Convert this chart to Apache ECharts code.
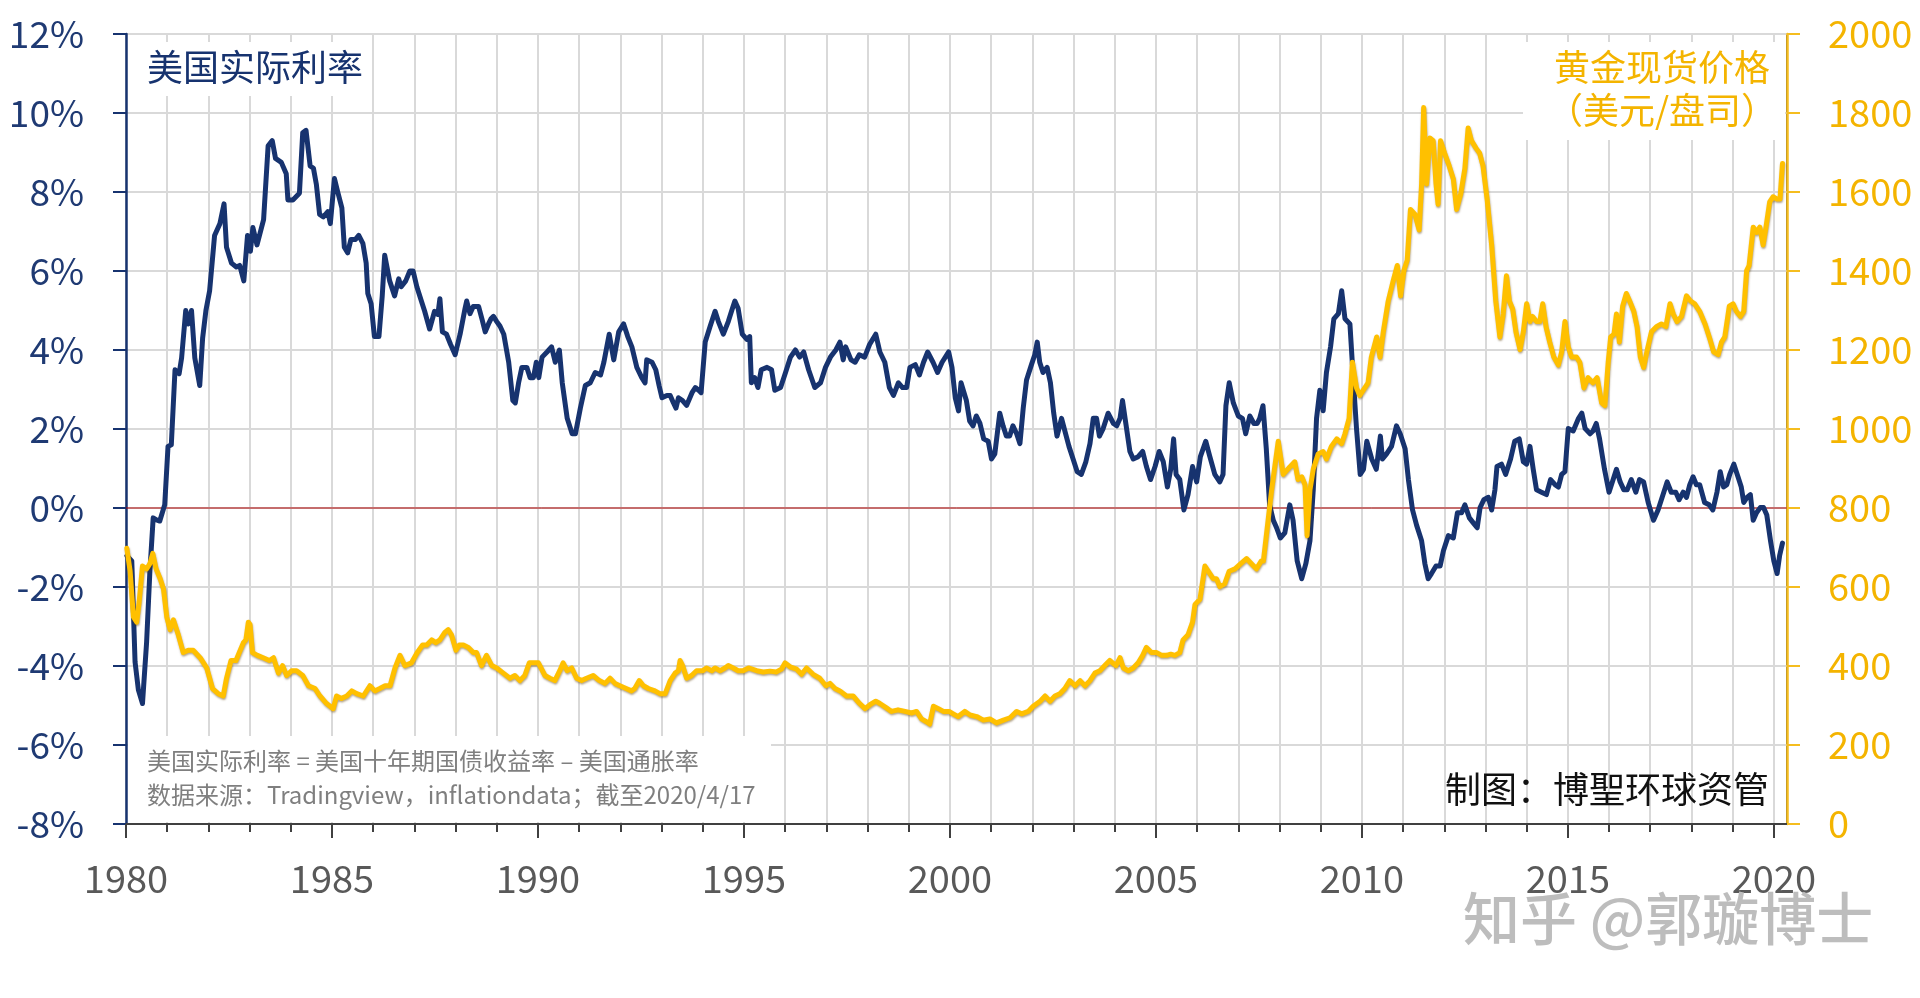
<!DOCTYPE html>
<html><head><meta charset="utf-8">
<script src="https://cdn.jsdelivr.net/npm/echarts@6/dist/echarts.min.js"></script>
<style>html,body{margin:0;padding:0;background:#fff}#c{width:1920px;height:998px}</style>
</head><body><div id="c"></div>
<script>
const FONT = '"Noto Sans CJK SC","Noto Sans",sans-serif';

// 美国实际利率 (%)
const rateYears = [
1980.02,1980.14,1980.22,1980.30,1980.40,1980.50,1980.58,1980.66,1980.74,1980.82,1980.94,
1981.02,1981.10,1981.19,1981.29,1981.35,1981.45,1981.51,1981.59,1981.67,1981.79,1981.86,1981.94,
1982.03,1982.15,1982.28,1982.38,1982.44,1982.56,1982.68,1982.76,1982.86,1982.95,
1983.02,1983.08,1983.18,1983.34,1983.45,1983.55,1983.63,1983.77,1983.89,1983.93,
1984.05,1984.21,1984.29,1984.37,1984.47,1984.55,1984.62,1984.70,1984.79,1984.90,1984.96,
1985.06,1985.14,1985.24,1985.30,1985.38,1985.46,1985.57,1985.65,1985.75,1985.83,1985.87,1985.95,
1986.03,1986.14,1986.22,1986.28,1986.40,1986.52,1986.62,1986.68,1986.79,1986.89,1986.97,
1987.06,1987.17,1987.25,1987.37,1987.49,1987.57,1987.62,1987.68,1987.78,1987.88,1987.99,
1988.11,1988.23,1988.27,1988.35,1988.43,1988.56,1988.64,1988.72,1988.80,1988.86,1988.92,
1989.00,1989.08,1989.17,1989.29,1989.39,1989.45,1989.53,1989.61,1989.73,1989.81,1989.89,1989.96,
1990.02,1990.10,1990.22,1990.33,1990.42,1990.52,1990.59,1990.71,1990.83,1990.91,
1991.03,1991.15,1991.27,1991.39,1991.52,1991.60,1991.73,1991.84,1991.96,
1992.08,1992.18,1992.28,1992.40,1992.52,1992.60,1992.64,1992.77,1992.86,1992.94,
1993.01,1993.13,1993.21,1993.29,1993.35,1993.41,1993.51,1993.61,1993.74,1993.82,1993.90,1993.96,
1994.06,1994.18,1994.30,1994.38,1994.50,1994.62,1994.72,1994.78,1994.86,1994.96,
1995.07,1995.14,1995.18,1995.26,1995.34,1995.42,1995.56,1995.67,1995.75,1995.89,
1996.01,1996.13,1996.25,1996.35,1996.45,1996.57,1996.72,1996.86,1996.98,
1997.10,1997.23,1997.33,1997.41,1997.47,1997.60,1997.70,1997.80,1997.93,
1998.05,1998.20,1998.30,1998.42,1998.53,1998.63,1998.75,1998.85,1998.95,
1999.03,1999.16,1999.26,1999.36,1999.46,1999.59,1999.70,1999.81,1999.97,
2000.05,2000.13,2000.21,2000.27,2000.40,2000.48,2000.56,2000.64,2000.73,2000.82,2000.93,
2001.01,2001.09,2001.21,2001.29,2001.37,2001.45,2001.53,2001.62,2001.70,2001.78,2001.86,2001.98,
2002.06,2002.12,2002.18,2002.26,2002.36,2002.44,2002.52,2002.60,2002.71,2002.79,2002.89,2002.99,
2003.09,2003.19,2003.30,2003.40,2003.48,2003.56,2003.63,2003.72,2003.84,2003.97,
2004.05,2004.13,2004.19,2004.27,2004.37,2004.45,2004.57,2004.68,2004.77,2004.87,2004.98,
2005.08,2005.18,2005.28,2005.36,2005.43,2005.49,2005.58,2005.68,2005.78,2005.89,2005.99,
2006.08,2006.21,2006.31,2006.43,2006.55,2006.63,2006.70,2006.78,2006.88,
2007.00,2007.10,2007.18,2007.28,2007.38,2007.46,2007.52,2007.60,2007.68,2007.76,2007.85,2007.93,
2008.02,2008.13,2008.25,2008.33,2008.43,2008.54,2008.64,2008.74,2008.82,2008.90,2008.98,
2009.06,2009.14,2009.24,2009.32,2009.43,2009.51,2009.59,2009.71,2009.79,2009.87,2009.96,
2010.04,2010.12,2010.24,2010.35,2010.45,2010.50,2010.60,2010.72,2010.84,2010.93,
2011.05,2011.13,2011.23,2011.33,2011.45,2011.53,2011.61,2011.69,2011.80,2011.90,2011.98,
2012.10,2012.22,2012.32,2012.42,2012.50,2012.61,2012.70,2012.80,2012.87,2012.96,
2013.07,2013.15,2013.23,2013.28,2013.39,2013.49,2013.61,2013.71,2013.82,2013.92,
2014.00,2014.08,2014.16,2014.24,2014.36,2014.48,2014.58,2014.69,2014.77,2014.85,2014.93,
2015.01,2015.13,2015.26,2015.34,2015.42,2015.54,2015.61,2015.69,2015.77,2015.89,
2016.00,2016.10,2016.18,2016.27,2016.36,2016.44,2016.54,2016.65,2016.74,2016.84,2016.95,
2017.08,2017.19,2017.29,2017.41,2017.51,2017.62,2017.70,2017.80,2017.88,2017.96,
2018.04,2018.12,2018.20,2018.32,2018.43,2018.52,2018.62,2018.70,2018.78,2018.86,2018.93,
2019.03,2019.13,2019.21,2019.27,2019.35,2019.43,2019.50,2019.58,2019.67,2019.75,2019.83,2019.92,
2020.00,2020.08,2020.14,2020.21
];
const rateValues = [
-1.21,-1.34,-3.9,-4.6,-4.95,-3.4,-1.6,-0.25,-0.3,-0.33,0.08,
1.56,1.6,3.5,3.4,3.8,5.0,4.66,5.0,3.8,3.1,4.3,5.0,
5.5,6.9,7.2,7.7,6.6,6.2,6.1,6.14,5.75,6.9,
6.5,7.1,6.66,7.3,9.17,9.3,8.85,8.75,8.46,7.8,
7.8,7.97,9.5,9.56,8.66,8.6,8.2,7.43,7.37,7.5,7.2,
8.34,8.0,7.6,6.6,6.46,6.8,6.8,6.9,6.7,6.2,5.43,5.17,
4.34,4.34,5.37,6.4,5.75,5.37,5.8,5.6,5.75,6.0,6.0,
5.6,5.24,4.98,4.53,4.98,4.9,5.3,4.46,4.4,4.14,3.88,
4.4,5.05,5.24,4.92,5.1,5.1,4.79,4.46,4.66,4.79,4.85,
4.72,4.6,4.4,3.69,2.72,2.66,3.17,3.56,3.56,3.3,3.3,3.69,
3.3,3.82,3.95,4.08,3.69,4.0,3.17,2.27,1.88,1.88,
2.53,3.1,3.17,3.43,3.37,3.69,4.4,3.75,4.46,
4.66,4.34,4.08,3.56,3.3,3.17,3.75,3.69,3.5,3.1,
2.79,2.85,2.85,2.66,2.53,2.79,2.72,2.6,2.92,3.05,2.98,2.92,
4.2,4.6,4.98,4.72,4.4,4.72,5.05,5.24,5.05,4.4,
4.27,4.34,3.17,3.3,3.05,3.5,3.56,3.5,2.98,3.05,
3.43,3.82,4.0,3.82,3.95,3.5,3.05,3.17,3.56,
3.82,4.0,4.2,3.75,4.08,3.75,3.69,3.88,3.82,
4.14,4.4,3.95,3.69,3.05,2.85,3.17,3.05,3.05,
3.56,3.63,3.37,3.69,3.95,3.69,3.43,3.69,3.95,
3.56,2.79,2.46,3.17,2.72,2.2,2.08,2.33,2.14,1.75,1.69,
1.24,1.37,2.4,2.08,1.82,1.82,2.08,1.88,1.63,2.53,3.24,3.63,
3.88,4.2,3.69,3.43,3.56,3.17,2.4,1.82,2.27,1.95,1.56,1.24,
0.92,0.85,1.17,1.63,2.27,2.27,1.82,2.01,2.4,2.14,
2.08,2.27,2.72,2.14,1.43,1.24,1.3,1.43,1.05,0.72,1.05,
1.43,1.17,0.53,0.98,1.75,0.85,0.72,-0.05,0.34,1.05,0.66,
1.3,1.69,1.3,0.85,0.66,0.85,2.59,3.17,2.66,
2.33,2.27,1.88,2.33,2.14,2.14,2.27,2.59,1.5,0.08,-0.31,-0.5,
-0.76,-0.63,0.08,-0.31,-1.34,-1.79,-1.41,-0.83,0.46,2.27,2.98,
2.46,3.43,4.08,4.79,4.92,5.5,4.79,4.66,3.3,2.01,0.85,
0.98,1.69,1.24,0.98,1.82,1.24,1.37,1.56,2.08,1.88,
1.5,0.72,-0.05,-0.44,-0.83,-1.41,-1.79,-1.66,-1.47,-1.47,-1.08,
-0.7,-0.76,-0.12,-0.12,0.08,-0.25,-0.37,-0.5,0.01,0.21,
0.27,-0.05,0.46,1.05,1.11,0.85,1.24,1.69,1.75,1.17,
1.11,1.56,0.98,0.46,0.4,0.34,0.72,0.59,0.53,0.85,0.92,
2.01,1.95,2.27,2.4,2.01,1.88,1.95,2.14,1.75,0.98,
0.4,0.72,0.98,0.66,0.46,0.46,0.72,0.4,0.72,0.66,0.14,
-0.31,-0.05,0.27,0.66,0.4,0.4,0.21,0.4,0.27,0.59,
0.79,0.59,0.59,0.14,0.08,-0.05,0.4,0.92,0.53,0.59,0.85,
1.11,0.79,0.53,0.14,0.27,0.34,-0.31,-0.12,0.01,0.01,-0.18,-0.83,
-1.34,-1.66,-1.21,-0.89
];

// 黄金现货价格 (美元/盘司)
const goldYears = [
1980.02,1980.10,1980.18,1980.26,1980.32,1980.40,1980.50,1980.58,1980.65,1980.73,1980.83,1980.91,1980.99,
1981.07,1981.15,1981.27,1981.39,1981.51,1981.63,1981.80,1981.96,
1982.10,1982.24,1982.36,1982.44,1982.55,1982.67,1982.75,1982.85,1982.91,1982.97,
1983.01,1983.07,1983.19,1983.33,1983.48,1983.58,1983.70,1983.80,1983.90,
1984.02,1984.14,1984.29,1984.43,1984.59,1984.71,1984.87,1985.03,
1985.11,1985.23,1985.36,1985.48,1985.60,1985.76,1985.92,
1986.04,1986.16,1986.29,1986.41,1986.53,1986.65,1986.77,1986.93,
1987.07,1987.20,1987.30,1987.42,1987.52,1987.62,1987.74,1987.82,1987.90,
1988.01,1988.09,1988.19,1988.31,1988.43,1988.51,1988.63,1988.75,1988.88,
1989.00,1989.16,1989.32,1989.44,1989.56,1989.68,1989.79,1989.90,
1990.01,1990.17,1990.29,1990.41,1990.53,1990.61,1990.71,1990.82,1990.94,
1991.06,1991.18,1991.34,1991.49,1991.63,1991.75,1991.87,1991.99,
1992.14,1992.27,1992.35,1992.46,1992.56,1992.68,1992.84,1992.96,
1993.09,1993.21,1993.33,1993.41,1993.45,1993.51,1993.61,1993.73,1993.85,
1994.00,1994.09,1994.22,1994.30,1994.42,1994.54,1994.62,1994.74,1994.86,1994.98,
1995.11,1995.31,1995.47,1995.63,1995.79,1995.91,
1996.00,1996.12,1996.28,1996.40,1996.52,1996.68,1996.84,1996.99,
1997.09,1997.21,1997.33,1997.49,1997.65,1997.81,1997.94,
1998.06,1998.20,1998.30,1998.46,1998.58,1998.74,1998.91,
1999.07,1999.19,1999.31,1999.43,1999.51,1999.60,1999.72,1999.84,1999.98,
2000.08,2000.20,2000.36,2000.49,2000.65,2000.81,2000.97,
2001.13,2001.30,2001.46,2001.62,2001.74,2001.90,
2002.02,2002.19,2002.31,2002.43,2002.55,2002.67,2002.79,2002.91,
2003.04,2003.16,2003.28,2003.40,2003.52,2003.64,2003.76,2003.88,
2004.03,2004.13,2004.21,2004.33,2004.45,2004.57,2004.68,2004.77,2004.89,
2005.02,2005.14,2005.26,2005.36,2005.46,2005.58,2005.66,2005.78,2005.89,2005.95,
2006.07,2006.19,2006.31,2006.39,2006.47,2006.55,2006.67,2006.78,2006.92,
2007.06,2007.20,2007.32,2007.44,2007.56,2007.61,2007.81,2007.97,
2008.09,2008.25,2008.37,2008.45,2008.54,2008.62,2008.67,2008.74,2008.82,2008.94,
2009.06,2009.14,2009.26,2009.39,2009.51,2009.59,2009.69,2009.77,2009.87,2009.95,
2010.07,2010.15,2010.23,2010.36,2010.44,2010.52,2010.64,2010.76,2010.86,2010.94,
2011.02,2011.10,2011.18,2011.29,2011.39,2011.45,2011.50,2011.57,2011.65,2011.73,2011.80,2011.85,2011.91,
2012.01,2012.12,2012.22,2012.30,2012.40,2012.50,2012.58,2012.66,2012.77,2012.86,2012.94,
2013.04,2013.15,2013.25,2013.35,2013.43,2013.51,2013.58,2013.66,2013.74,2013.84,2013.92,
2014.00,2014.08,2014.14,2014.24,2014.32,2014.39,2014.47,2014.56,2014.66,2014.77,2014.85,2014.93,
2015.01,2015.09,2015.21,2015.29,2015.39,2015.49,2015.61,2015.71,2015.82,2015.90,2015.98,
2016.04,2016.12,2016.18,2016.25,2016.33,2016.42,2016.50,2016.60,2016.68,2016.76,2016.84,2016.93,
2017.03,2017.15,2017.27,2017.38,2017.48,2017.56,2017.65,2017.76,2017.88,2017.98,
2018.08,2018.20,2018.33,2018.45,2018.54,2018.65,2018.73,2018.81,2018.92,
2019.01,2019.09,2019.19,2019.27,2019.34,2019.40,2019.50,2019.58,2019.66,2019.74,2019.81,2019.90,2019.98,
2020.08,2020.15,2020.21
];
const goldValues = [
698,640,524,511,563,653,646,659,685,646,621,595,524,
492,517,479,434,440,440,421,395,
343,330,324,369,414,414,434,459,466,511,
505,434,427,421,414,421,382,401,376,
388,388,376,350,343,324,305,292,
324,318,324,337,330,324,350,
337,343,350,350,395,427,401,408,
434,453,453,466,459,466,485,492,479,
440,453,453,447,434,434,401,427,401,
395,382,369,376,363,376,408,408,
408,376,369,363,388,408,388,395,369,
363,369,376,363,356,369,356,350,
343,337,343,363,350,343,337,330,
330,363,382,388,414,401,369,376,388,
388,395,388,395,388,395,401,395,388,388,
395,388,385,387,385,392,
408,398,392,379,395,379,369,350,
356,343,337,324,324,305,292,
302,311,305,294,285,289,285,
281,285,266,259,253,298,292,285,285,
279,272,285,276,272,263,266,
256,263,269,285,279,285,
298,311,324,311,324,330,343,363,
350,363,350,363,382,388,401,414,
401,421,395,388,395,408,427,447,434,
434,427,427,430,427,434,466,479,511,556,
569,653,634,621,621,601,608,640,646,
659,672,659,646,666,666,846,969,
885,904,917,872,879,859,730,846,898,937,
943,924,956,975,963,988,1027,1169,1104,1085,
1104,1117,1182,1233,1182,1246,1324,1375,1414,1337,
1401,1427,1556,1543,1504,1620,1814,1620,1737,1730,1620,1569,1730,
1698,1666,1633,1556,1595,1659,1762,1730,1711,1698,1666,
1582,1466,1324,1233,1291,1388,1324,1304,1246,1201,1246,
1317,1272,1285,1272,1272,1317,1259,1220,1182,1162,1195,1272,
1208,1182,1182,1169,1104,1130,1117,1130,1066,1059,1169,
1233,1240,1291,1220,1311,1343,1324,1298,1259,1182,1156,1201,
1246,1259,1266,1259,1317,1291,1272,1285,1337,1324,
1317,1298,1266,1227,1195,1188,1220,1233,1311,
1317,1298,1285,1298,1401,1414,1511,1498,1511,1466,1511,1575,1588,
1582,1582,1672
];

const xTickYears = [1980,1981,1982,1983,1984,1985,1986,1987,1988,1989,1990,1991,1992,1993,1994,1995,1996,1997,1998,1999,2000,2001,2002,2003,2004,2005,2006,2007,2008,2009,2010,2011,2012,2013,2014,2015,2016,2017,2018,2019,2020];
const xLabelYears = [1980,1985,1990,1995,2000,2005,2010,2015,2020];
const zeroLineX = [1980, 2020.32];
const zeroLineY = [0, 0];

const NAVY = '#17336f';
const GOLD = '#ffc000';
const GRIDC = '#d9d9d9';
const AXISG = '#404040';

const rateData = rateYears.map((y, i) => [y, rateValues[i]]);
const goldData = goldYears.map((y, i) => [y, goldValues[i]]);
const zeroData = zeroLineX.map((x, i) => [x, zeroLineY[i]]);

const chart = echarts.init(document.getElementById('c'), null, {renderer: 'canvas'});
chart.setOption({
  animation: false,
  backgroundColor: '#ffffff',
  textStyle: {fontFamily: FONT},
  grid: {left: 126, right: 133, top: 34, bottom: 174, show: true, borderColor: AXISG, borderWidth: 2, backgroundColor: 'transparent'},
  xAxis: [{
    type: 'value', min: 1980, max: 2020.32, interval: 1,
    axisLine: {show: true, onZero: false, lineStyle: {color: AXISG, width: 2}},
    axisTick: {show: true, length: 8, customValues: xTickYears, lineStyle: {color: AXISG, width: 2}},
    axisLabel: {show: false},
    splitLine: {show: true, lineStyle: {color: GRIDC, width: 2}}
  }, {
    type: 'value', min: 1980, max: 2020.32, interval: 5, position: 'bottom',
    axisLine: {show: false, onZero: false},
    axisTick: {show: true, length: 14, customValues: xLabelYears, lineStyle: {color: AXISG, width: 2}},
    axisLabel: {show: true, customValues: xLabelYears, margin: 36, fontSize: 38, color: '#595959', fontFamily: FONT,
      formatter: v => (Math.abs(v % 5) < 1e-6 ? String(Math.round(v)) : '')},
    splitLine: {show: false}
  }],
  yAxis: [{
    type: 'value', min: -8, max: 12, interval: 2, position: 'left',
    axisLine: {show: true, onZero: false, lineStyle: {color: NAVY, width: 2.5}},
    axisTick: {show: true, length: 13, lineStyle: {color: NAVY, width: 2}},
    axisLabel: {formatter: v => v + '%', fontSize: 37, color: '#1f3a73', margin: 42, fontFamily: FONT},
    splitLine: {show: true, lineStyle: {color: GRIDC, width: 2}}
  }, {
    type: 'value', min: 0, max: 2000, interval: 200, position: 'right',
    axisLine: {show: true, onZero: false, lineStyle: {color: '#f5bd1f', width: 2.5}},
    axisTick: {show: true, length: 13, lineStyle: {color: '#f5bd1f', width: 2}},
    axisLabel: {formatter: v => String(v), fontSize: 38, color: '#f4b400', margin: 41, fontFamily: FONT},
    splitLine: {show: false}
  }],
  series: [{
    name: '零线', type: 'line', xAxisIndex: 0, yAxisIndex: 0, data: zeroData, z: 1,
    symbol: 'none', silent: true, lineStyle: {color: '#b00000', width: 1}
  }, {
    name: '美国实际利率', type: 'line', xAxisIndex: 0, yAxisIndex: 0, data: rateData, z: 3,
    symbol: 'none', lineStyle: {color: NAVY, width: 5, join: 'round', cap: 'round'}
  }, {
    name: '黄金现货价格', type: 'line', xAxisIndex: 0, yAxisIndex: 1, data: goldData, z: 4,
    symbol: 'none', lineStyle: {color: GOLD, width: 5, join: 'round', cap: 'round',
      shadowColor: 'rgba(90,60,0,0.45)', shadowBlur: 2, shadowOffsetY: 1.5, shadowOffsetX: 0.5}
  }],
  graphic: [
    {type: 'rect', z: 1, silent: true, shape: {x: 128, y: 42, width: 244, height: 54}, style: {fill: '#ffffff'}},
    {type: 'text', z: 2, silent: true, x: 147, y: 67, style: {text: '美国实际利率', font: '36px ' + FONT, fill: NAVY, textVerticalAlign: 'middle', textBaseline: 'middle'}},
    {type: 'rect', z: 1, silent: true, shape: {x: 1523, y: 42, width: 262, height: 98}, style: {fill: '#ffffff'}},
    {type: 'text', z: 2, silent: true, x: 1662, y: 67, style: {text: '黄金现货价格', font: '36px ' + FONT, fill: '#f4b400', textAlign: 'center', textVerticalAlign: 'middle', textBaseline: 'middle'}},
    {type: 'text', z: 2, silent: true, x: 1662, y: 110, style: {text: '（美元/盘司）', font: '36px ' + FONT, fill: '#f4b400', textAlign: 'center', textVerticalAlign: 'middle', textBaseline: 'middle'}},
    {type: 'rect', z: 1, silent: true, shape: {x: 128, y: 736, width: 643, height: 86}, style: {fill: '#ffffff'}},
    {type: 'text', z: 2, silent: true, x: 147, y: 761, style: {text: '美国实际利率 = 美国十年期国债收益率 – 美国通胀率', font: '24px ' + FONT, fill: '#7f7f7f', textVerticalAlign: 'middle', textBaseline: 'middle'}},
    {type: 'text', z: 2, silent: true, x: 147, y: 795, style: {text: '数据来源：Tradingview，inflationdata；截至2020/4/17', font: '24px ' + FONT, fill: '#7f7f7f', textVerticalAlign: 'middle', textBaseline: 'middle'}},
    {type: 'text', z: 2, silent: true, x: 1769, y: 789, style: {text: '制图：博聖环球资管', font: '36px ' + FONT, fill: '#111111', textAlign: 'right', textVerticalAlign: 'middle', textBaseline: 'middle'}},
    {type: 'text', z: 2, silent: true, x: 1463, y: 918, style: {text: '知乎 @郭璇博士', font: '500 57px ' + FONT, fill: '#bdbdbd', textVerticalAlign: 'middle', textBaseline: 'middle',
      shadowColor: 'rgba(0,0,0,0.5)', shadowOffsetX: -2, shadowOffsetY: 2, shadowBlur: 1}}
  ]
});
</script>
</body></html>
